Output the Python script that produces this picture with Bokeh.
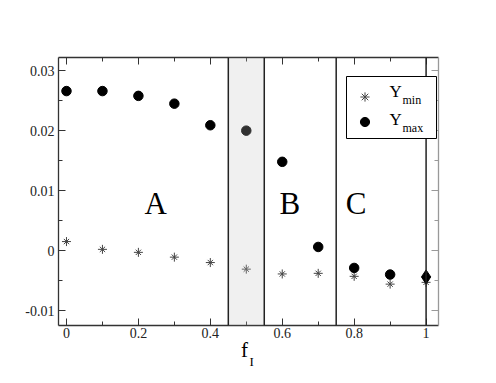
from bokeh.plotting import figure
from bokeh.layouts import column
from bokeh.models import (LinearAxis, FixedTicker, Span, BoxAnnotation, Label,
                          Legend, LegendItem, Range1d)
from bokeh.core.properties import value
from bokeh.embed import file_html
from bokeh.resources import INLINE

# ---- data ----
f_I = [0.0, 0.1, 0.2, 0.3, 0.4, 0.5, 0.6, 0.7, 0.8, 0.9, 1.0]
y_min = [0.0015, 0.0002, -0.0003, -0.0011, -0.0020, -0.0031, -0.0039, -0.0038, -0.0043, -0.0056, -0.0053]
y_max = [0.0266, 0.0266, 0.0258, 0.0245, 0.0209, 0.0200, 0.0148, 0.0006, -0.0029, -0.0040, -0.0044]

region_names = ["A", "B", "C"]
region_x = [0.248, 0.621, 0.805]
region_y = [0.0079, 0.0079, 0.0079]

shade_bounds = [0.45, 0.55]
boundary_lines = [0.45, 0.55, 0.75, 1.0]

x_ticks = [0.0, 0.2, 0.4, 0.6, 0.8, 1.0]
x_tick_labels = ["0", "0.2", "0.4", "0.6", "0.8", "1"]
x_minor = [0.1, 0.3, 0.5, 0.7, 0.9]
y_ticks = [-0.01, 0.0, 0.01, 0.02, 0.03]
y_tick_labels = ["-0.01", "0", "0.01", "0.02", "0.03"]
y_minor = [-0.005, 0.005, 0.015, 0.025]

FONT = "Liberation Serif"

p = figure(width=488, height=343, output_backend="svg", toolbar_location=None,
           x_range=Range1d(-0.0222, 1.0345), y_range=Range1d(-0.0125, 0.0322),
           x_axis_type=None, y_axis_type=None,
           min_border_left=58, min_border_right=50, min_border_top=57, min_border_bottom=18)
p.grid.visible = False
p.outline_line_color = None
p.background_fill_color = "white"
p.border_fill_color = "white"

def style_axis(ax, ticks, minor, labels, show_labels, color):
    ax.ticker = FixedTicker(ticks=ticks, minor_ticks=minor)
    ax.major_label_overrides = {t: l for t, l in zip(ticks, labels)}
    ax.axis_line_color = color
    ax.axis_line_width = 1.3
    ax.major_tick_line_color = color
    ax.minor_tick_line_color = color
    ax.major_tick_in = 7
    ax.major_tick_out = 0
    ax.minor_tick_in = 4
    ax.minor_tick_out = 0
    ax.major_label_text_font = FONT
    ax.major_label_text_font_size = "14px"
    ax.major_label_text_color = "#222222"
    ax.major_label_standoff = 2
    if not show_labels:
        ax.major_label_text_font_size = "0px"
        ax.major_label_text_color = None
        ax.major_label_standoff = 0

bottom = LinearAxis()
style_axis(bottom, x_ticks, x_minor, x_tick_labels, True, "#333333")
top = LinearAxis()
style_axis(top, x_ticks, x_minor, x_tick_labels, False, "#333333")
left = LinearAxis()
style_axis(left, y_ticks, y_minor, y_tick_labels, True, "#333333")
left.major_label_standoff = 4
right = LinearAxis()
style_axis(right, y_ticks, y_minor, y_tick_labels, False, "#999999")
p.add_layout(bottom, "below")
p.add_layout(top, "above")
p.add_layout(left, "left")
p.add_layout(right, "right")

r_cross = p.scatter(f_I, y_min, marker="cross", size=9, line_color="#444444", line_width=1)
r_x = p.scatter(f_I, y_min, marker="x", size=7.5, line_color="#444444", line_width=1)
r_circ = p.scatter(f_I[:-1], y_max[:-1], marker="circle", size=9.5,
                   fill_color="black", line_color="black")
p.scatter(f_I[-1:], y_max[-1:], marker="diamond", size=14,
          fill_color="black", line_color="black")

p.text(region_x, region_y, text=region_names, text_font=value(FONT),
       text_font_size="31px", text_align="center", text_baseline="alphabetic",
       text_color="black")

p.add_layout(BoxAnnotation(left=shade_bounds[0], right=shade_bounds[1],
                           fill_color="#c4c4c4", fill_alpha=0.25, line_color=None))
for v in boundary_lines:
    p.add_layout(Span(location=v, dimension="height", line_color="#222222", line_width=1.5))

# legend frame (screen units, relative to plot frame)
p.add_layout(BoxAnnotation(left=288, right=378, bottom=187, top=249,
                           left_units="screen", right_units="screen",
                           bottom_units="screen", top_units="screen",
                           fill_color="white", fill_alpha=1.0,
                           line_color="black", line_width=1, line_alpha=1.0))

legend = Legend(items=[LegendItem(label=" ", renderers=[r_cross, r_x]),
                       LegendItem(label=" ", renderers=[r_circ])],
                location=(295, 192), padding=7, spacing=2,
                glyph_width=23, glyph_height=23, label_height=23, label_width=43,
                label_standoff=10, margin=0,
                border_line_color=None, background_fill_alpha=0.0)
p.add_layout(legend, "center")

def lab(text, x, y, size):
    p.add_layout(Label(text=text, x=x, y=y, x_units="screen", y_units="screen",
                       text_font=FONT, text_font_size=size, text_color="black",
                       text_align="left", text_baseline="alphabetic", level="overlay"))

lab("Y", 331, 234, "17px")
lab("min", 344, 225.6, "12px")
lab("Y", 331, 206, "17px")
lab("max", 344, 197.6, "12px")

# x-axis title f_I in a transparent strip overlapping the plot's bottom border
q = figure(width=488, height=40, output_backend="svg", toolbar_location=None,
           x_range=Range1d(0, 488), y_range=Range1d(0, 40),
           x_axis_type=None, y_axis_type=None, min_border=0)
q.grid.visible = False
q.outline_line_color = None
q.background_fill_alpha = 0.0
q.border_fill_alpha = 0.0
q.margin = (-8, 0, 0, 0)
q.text([234.5], [26.0], text=["f"], text_font=value(FONT), text_font_size="21px",
       text_align="left", text_baseline="alphabetic", text_color="black")
q.text([245.2], [14.2], text=["I"], text_font=value(FONT), text_font_size="13px",
       text_align="left", text_baseline="alphabetic", text_color="black")

layout = column(p, q, spacing=0)
open("out.html", "w").write(file_html(layout, INLINE))
